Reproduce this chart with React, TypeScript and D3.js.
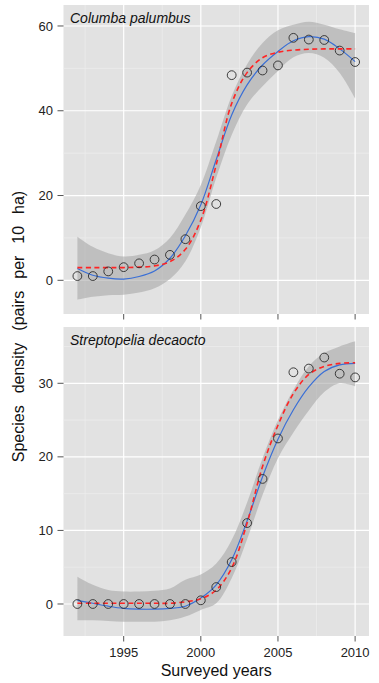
import React from "react";
import * as d3 from "d3";

const years = [1992, 1993, 1994, 1995, 1996, 1997, 1998, 1999, 2000, 2001, 2002, 2003, 2004, 2005, 2006, 2007, 2008, 2009, 2010];

// Columba palumbus
const cpObs = [1.0, 1.0, 2.1, 3.1, 4.0, 4.9, 6.0, 9.7, 17.5, 18.0, 48.4, 49.0, 49.5, 50.7, 57.2, 56.8, 56.7, 54.2, 51.5];
const cpLoess = [2.8, 1.2, 0.5, 0.3, 0.9, 2.2, 5.2, 10.5, 17.8, 28.5, 39.0, 46.1, 50.8, 54.0, 56.5, 57.5, 56.9, 54.6, 51.6];
const cpUpper = [10.3, 7.9, 6.4, 5.6, 6.0, 7.1, 10.0, 15.5, 22.5, 32.8, 43.5, 51.0, 56.0, 59.0, 60.3, 61.0, 60.3, 59.2, 58.3];
const cpLower = [-4.6, -3.9, -3.5, -3.4, -2.9, -1.9, 0.3, 4.5, 12.5, 24.2, 34.3, 41.5, 45.8, 49.4, 52.6, 53.6, 52.5, 48.9, 42.9];
const cpLogistic = [3.0, 3.0, 3.0, 3.0, 3.1, 3.4, 4.4, 7.3, 14.2, 27.3, 41.7, 49.0, 52.5, 53.8, 54.3, 54.5, 54.6, 54.6, 54.6];

// Streptopelia decaocto
const sdObs = [0, 0, 0, 0, 0, 0, 0, 0, 0.5, 2.3, 5.7, 11.0, 17.0, 22.5, 31.5, 32.0, 33.5, 31.3, 30.8];
const sdLoess = [0.5, 0.1, -0.3, -0.6, -0.7, -0.7, -0.6, -0.3, 0.8, 2.6, 6.0, 11.3, 17.3, 22.4, 26.4, 29.5, 31.6, 32.5, 32.7];
const sdUpper = [3.7, 2.6, 1.9, 1.7, 1.7, 1.8, 2.1, 3.3, 4.0, 5.5, 8.7, 13.8, 19.8, 25.0, 29.1, 32.3, 34.1, 35.0, 35.7];
const sdLower = [-2.2, -2.2, -2.3, -2.4, -2.4, -2.4, -2.2, -1.7, -0.8, 0.1, 3.5, 8.8, 14.8, 19.8, 23.3, 26.3, 28.8, 30.0, 29.6];
const sdLogistic = [0.1, 0.1, 0.1, 0.1, 0.1, 0.1, 0.1, 0.3, 0.7, 1.9, 4.9, 11.0, 18.7, 24.3, 28.6, 31.2, 32.3, 32.7, 32.8];

const xMajor = [1995, 2000, 2005, 2010];
const xMinor = [1992.5, 1997.5, 2002.5, 2007.5];
const cpMajor = [0, 20, 40, 60];
const cpMinor = [-10, 10, 30, 50];
const sdMajor = [0, 10, 20, 30];
const sdMinor = [5, 15, 25, 35];

const W = 379, H = 683;
const left = 63.5, right = 369;
const font = "'Liberation Sans', Arial, Helvetica, sans-serif";

const x = d3.scaleLinear().domain([1991.1, 2010.9]).range([left, right]);

type PanelProps = {
  id: string; title: string; top: number; bottom: number; domain: [number, number];
  obs: number[]; loess: number[]; upper: number[]; lower: number[]; logistic: number[];
  major: number[]; minor: number[]; showLabels: boolean;
};

function Panel(p: PanelProps) {
  const y = d3.scaleLinear().domain(p.domain).range([p.bottom, p.top]);
  const curve = d3.curveCatmullRom.alpha(0.5);
  const line = d3.line<number>().x((_, i) => x(years[i])).y((d) => y(d)).curve(curve);
  const area = d3.area<number>().x((_, i) => x(years[i])).y0((_, i) => y(p.lower[i])).y1((d) => y(d)).curve(curve);
  return (
    <g>
      <defs>
        <clipPath id={p.id}>
          <rect x={left} y={p.top} width={right - left} height={p.bottom - p.top} />
        </clipPath>
      </defs>
      <rect x={left} y={p.top} width={right - left} height={p.bottom - p.top} fill="#e2e2e2" />
      <g clipPath={`url(#${p.id})`}>
        {xMinor.map((v) => (
          <line key={"xm" + v} x1={x(v)} x2={x(v)} y1={p.top} y2={p.bottom} stroke="#ececec" strokeWidth={0.8} />
        ))}
        {p.minor.map((v) => (
          <line key={"ym" + v} x1={left} x2={right} y1={y(v)} y2={y(v)} stroke="#ececec" strokeWidth={0.8} />
        ))}
        {xMajor.map((v) => (
          <line key={"xM" + v} x1={x(v)} x2={x(v)} y1={p.top} y2={p.bottom} stroke="#ffffff" strokeWidth={1.2} />
        ))}
        {p.major.map((v) => (
          <line key={"yM" + v} x1={left} x2={right} y1={y(v)} y2={y(v)} stroke="#ffffff" strokeWidth={1.2} />
        ))}
        <path d={area(p.upper) || ""} fill="#a9a9a9" fillOpacity={0.6} />
        <path d={line(p.loess) || ""} fill="none" stroke="#3a6fd6" strokeWidth={1.2} />
        <path d={line(p.logistic) || ""} fill="none" stroke="#ff2424" strokeWidth={1.6} strokeDasharray="5,3.5" />
        {p.obs.map((v, i) => (
          <circle key={"o" + i} cx={x(years[i])} cy={y(v)} r={4.4} fill="none" stroke="#2a2a2a" strokeWidth={0.9} />
        ))}
      </g>
      <text x={70} y={p.top + 18} fontFamily={font} fontStyle="italic" fontSize={14} fill="#111">{p.title}</text>
      {p.major.map((v) => (
        <g key={"yt" + v}>
          <line x1={57.5} x2={left} y1={y(v)} y2={y(v)} stroke="#555" strokeWidth={1} />
          <text x={53} y={y(v) + 4.6} textAnchor="end" fontFamily={font} fontSize={13} fill="#222">{v}</text>
        </g>
      ))}
      {xMajor.map((v) => (
        <g key={"xt" + v}>
          <line x1={x(v)} x2={x(v)} y1={p.bottom} y2={p.bottom + 5.5} stroke="#555" strokeWidth={1} />
          {p.showLabels && (
            <text x={x(v)} y={p.bottom + 21} textAnchor="middle" fontFamily={font} fontSize={13} fill="#222">{v}</text>
          )}
        </g>
      ))}
    </g>
  );
}

export default function App() {
  return (
    <svg width={W} height={H} style={{ position: "absolute", left: 0, top: 0, background: "#ffffff" }}>
      <rect x={0} y={0} width={W} height={H} fill="#ffffff" />
      <Panel id="cp" title="Columba palumbus" top={5} bottom={314} domain={[-7.95, 64.95]}
        obs={cpObs} loess={cpLoess} upper={cpUpper} lower={cpLower} logistic={cpLogistic}
        major={cpMajor} minor={cpMinor} showLabels={false} />
      <Panel id="sd" title="Streptopelia decaocto" top={327} bottom={636} domain={[-4.35, 37.65]}
        obs={sdObs} loess={sdLoess} upper={sdUpper} lower={sdLower} logistic={sdLogistic}
        major={sdMajor} minor={sdMinor} showLabels={true} />
      <text transform="translate(24,326.5) rotate(-90)" textAnchor="middle" fontFamily={font} fontSize={16}
        wordSpacing={7.5} fill="#111">Species density (pairs per 10 ha)</text>
      <text x={(left + right) / 2} y={676} textAnchor="middle" fontFamily={font} fontSize={16} fill="#111">Surveyed years</text>
    </svg>
  );
}
